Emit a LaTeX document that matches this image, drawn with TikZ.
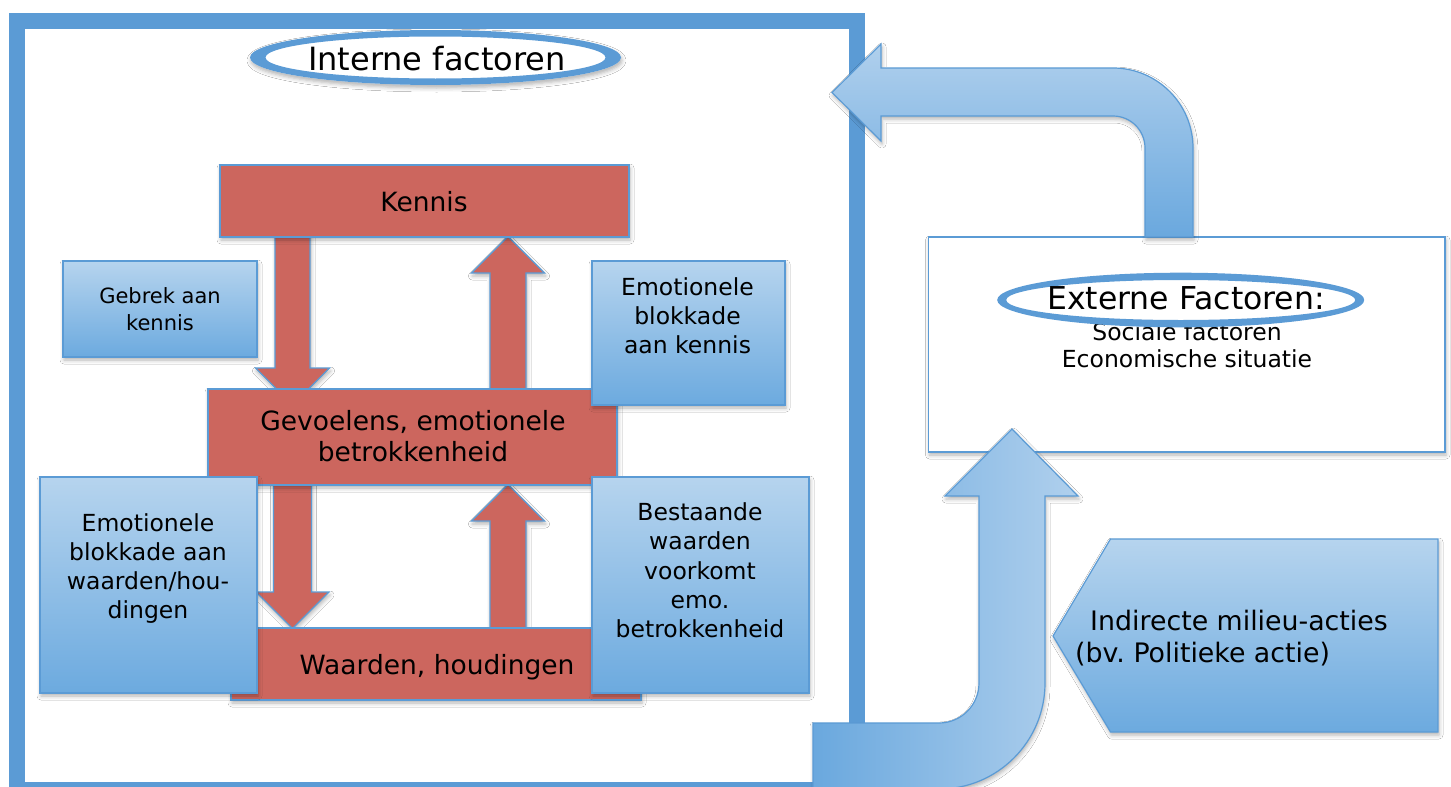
\documentclass[tikz,border=0pt]{standalone}
\usepackage{fontspec}
\setmainfont{DejaVu Sans}
\usetikzlibrary{shadows.blur}
\frenchspacing

\definecolor{framecol}{RGB}{91,155,213}
\definecolor{redfill}{RGB}{204,102,94}
\definecolor{boxtop}{RGB}{182,212,238}
\definecolor{boxbot}{RGB}{108,170,223}
\definecolor{arrlight}{RGB}{176,208,237}
\definecolor{arrdark}{RGB}{106,168,222}

% stacked lines whose baseline is the baseline of the first line
\newcommand\txtstack[2][c]{\begin{tabular}[t]{@{}#1@{}}#2\end{tabular}}

\begin{document}
\begin{tikzpicture}[x=1pt,y=-1pt,
  softshadow/.style={blur shadow={shadow xshift=1pt,shadow yshift=-3pt,shadow blur radius=4pt,shadow opacity=30}},
  redbox/.style={draw=framecol,line width=1.5pt,fill=redfill,softshadow,inner sep=0pt},
  bluebox/.style={draw=framecol,line width=1.5pt,top color=boxtop,bottom color=boxbot,softshadow,inner sep=0pt},
  redarrow/.style={draw=framecol,line width=1.2pt,fill=redfill,softshadow,line join=miter},
  bigarrow/.style={draw=framecol,line width=1.2pt,softshadow,line join=miter},
  lbl/.style={anchor=base,inner sep=0pt,text=black},
  redtxt/.style={font=\fontsize{26.5}{31.7}\selectfont},
  bluetxt/.style={font=\fontsize{23.5}{29.2}\selectfont},
]
\useasboundingbox (0,0) rectangle (1451,787);
\fill[white] (0,0) rectangle (1451,787);

% ---------- internal factors frame ----------
\draw[framecol,line width=16pt] (16.5,21) rectangle (856.5,790);

% title ellipse
\fill[white,softshadow] (435.5,57.5) ellipse [x radius=185.5pt,y radius=27.5pt];
\fill[framecol,even odd rule]
  (435.5,57.5) ellipse [x radius=185.5pt,y radius=27.5pt]
  (435.5,57.5) ellipse [x radius=170pt,y radius=21pt];
\node[lbl,font=\fontsize{32}{38}\selectfont] (intTitle) at (437,70) {Interne factoren};

% ---------- block arrows between the red boxes ----------
\draw[redarrow] (275,230) -- (275,368) -- (255.5,368) -- (292.5,405) -- (329.5,368)
  -- (310,368) -- (310,230) -- cycle;
\draw[redarrow] (490,395) -- (490,273) -- (471.5,273) -- (508,236.5) -- (544.5,273)
  -- (526,273) -- (526,395) -- cycle;
\draw[redarrow] (273.5,480) -- (273.5,592) -- (256,592) -- (292.5,628.5) -- (329,592)
  -- (311.5,592) -- (311.5,480) -- cycle;
\draw[redarrow] (490,635) -- (490,521) -- (471.5,521) -- (508,484.5) -- (544.5,521)
  -- (526,521) -- (526,635) -- cycle;

% ---------- red boxes ----------
\node[redbox,minimum width=409pt,minimum height=72pt] (kennis) at (424.5,201) {};
\node[redbox,minimum width=409pt,minimum height=96pt] (gevoel) at (412.5,437) {};
\node[redbox,minimum width=410pt,minimum height=72pt] (waarden) at (436,664) {};

% ---------- blue boxes ----------
\node[bluebox,minimum width=194pt,minimum height=96pt] (gebrek) at (160,309) {};
\node[bluebox,minimum width=193pt,minimum height=144pt] (emokennis) at (688.5,333) {};
\node[bluebox,minimum width=217pt,minimum height=216pt] (emowaarden) at (148.5,585) {};
\node[bluebox,minimum width=217pt,minimum height=216pt] (bestaande) at (700.5,585) {};

% ---------- texts of the inner boxes ----------
\node[lbl,redtxt] (kennisTxt) at (424,211.7) {Kennis};
\node[lbl,redtxt] (gevoelTxt) at (413,430) {\txtstack{Gevoelens, emotionele\\betrokkenheid}};
\node[lbl,redtxt] (waardenTxt) at (437,674) {Waarden, houdingen};
\node[lbl,font=\fontsize{21}{27}\selectfont] (gebrekTxt) at (160,303) {\txtstack{Gebrek aan\\kennis}};
\node[lbl,bluetxt] (emokennisTxt) at (687.5,295) {\txtstack{Emotionele\\blokkade\\aan kennis}};
\node[lbl,bluetxt] (emowaardenTxt) at (148,531) {\txtstack{Emotionele\\blokkade aan\\waarden/hou-\\dingen}};
\node[lbl,bluetxt] (bestaandeTxt) at (700,520.7) {\txtstack{Bestaande\\waarden\\voorkomt\\emo.\\betrokkenheid}};

% ---------- external factors ----------
\node[draw=framecol,line width=1.5pt,fill=white,softshadow,minimum width=516.5pt,minimum height=215pt,inner sep=0pt]
  (externe) at (1186.75,344.5) {};
\fill[white] (1180.7,300) ellipse [x radius=183.5pt,y radius=27.3pt];
\node[lbl,bluetxt,font=\fontsize{23.5}{27}\selectfont] (extList) at (1187,340)
  {\txtstack{Sociale factoren\\Economische situatie}};
\fill[framecol,even odd rule]
  (1180.7,300) ellipse [x radius=183.5pt,y radius=27.3pt]
  (1180.7,300) ellipse [x radius=174.5pt,y radius=20pt];
\node[lbl,font=\fontsize{31.5}{38}\selectfont] (extTitle) at (1186,309) {Externe Factoren:};

% bent arrow from the external box back into the internal frame
\path[bigarrow,top color=arrlight,bottom color=arrdark]
  (1145,237) -- (1145,148) .. controls (1145,130.3) and (1130.7,116) .. (1113,116)
  -- (881,116) -- (881,141) -- (832,92.5) -- (881,44) -- (881,68) -- (1113,68)
  .. controls (1157.2,68) and (1193,103.8) .. (1193,148) -- (1193,237) -- cycle;

% U-shaped arrow from the bottom up into the external box
\path[bigarrow,left color=arrdark,right color=arrlight]
  (813,789) -- (813,723) -- (939,723) .. controls (961.1,723) and (979,705.1) .. (979,683)
  -- (979,496) -- (945,496) -- (1012,429) -- (1078,496) -- (1045,496) -- (1045,683)
  .. controls (1045,741.5) and (997.5,789) .. (939,789) -- cycle;

% indirect actions pentagon
\path[bigarrow,top color=boxtop,bottom color=boxbot]
  (1053,636) -- (1110.5,539) -- (1438,539) -- (1438,732) -- (1110.5,732) -- cycle;
\node[lbl,anchor=base west,font=\fontsize{26.8}{32.7}\selectfont] (indirTxt) at (1075,630)
  {\txtstack[l]{\hspace*{15pt}Indirecte milieu-acties\\(bv. Politieke actie)}};
\end{tikzpicture}
\end{document}
